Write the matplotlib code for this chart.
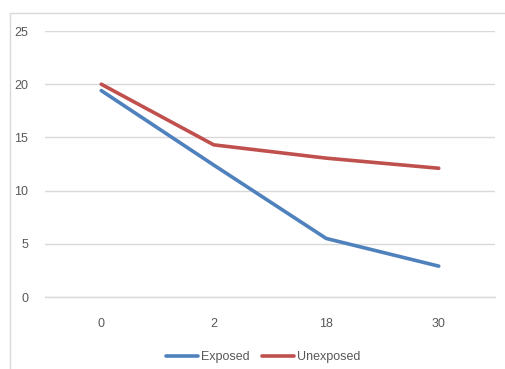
import matplotlib
matplotlib.use("Agg")
import matplotlib.pyplot as plt
from matplotlib.patches import Rectangle

# --- DATA ---
categories = ["0", "2", "18", "30"]
exposed = [19.4, 12.4, 5.5, 2.9]
unexposed = [20.0, 14.3, 13.05, 12.1]
y_ticks = [0, 5, 10, 15, 20, 25]

BLUE = "#4F81BD"
RED = "#C0504D"
GRID = "#D9D9D9"
TEXT = "#595959"

plt.rcParams['font.family'] = ['Liberation Sans', 'DejaVu Sans']

fig = plt.figure(figsize=(5.06, 3.69), dpi=100)
W, H = 506, 369

# chart area border (cropped on the right and bottom)
fig.patches.append(Rectangle((10 / W, -0.1), 1.2, 1 - 13 / H + 0.1,
                             transform=fig.transFigure, fill=False,
                             edgecolor="#D9D9D9", linewidth=1.0))

ax = fig.add_axes([45 / W, 1 - 297 / H, 450 / W, (297 - 31) / H])
x = range(len(categories))
ax.plot(x, exposed, color=BLUE, lw=2.6, label="Exposed", solid_capstyle="round")
ax.plot(x, unexposed, color=RED, lw=2.6, label="Unexposed", solid_capstyle="round")

ax.set_xlim(-0.5, len(categories) - 0.5)
ax.set_ylim(0, 25)
ax.set_yticks(y_ticks)
ax.set_xticks(list(x))
ax.set_xticklabels(categories)
ax.yaxis.grid(True, color=GRID, lw=1.0)
ax.set_axisbelow(True)
for s in ["top", "right", "left"]:
    ax.spines[s].set_visible(False)
ax.spines["bottom"].set_color(GRID)
ax.spines["bottom"].set_linewidth(1.0)
ax.tick_params(axis="both", length=0, colors=TEXT, labelsize=9)
ax.tick_params(axis="y", pad=12)
ax.tick_params(axis="x", pad=15)

leg = fig.legend(loc="center", bbox_to_anchor=(0.52, 1 - 357 / H), ncol=2,
                 frameon=False, fontsize=9, handlelength=2.6,
                 columnspacing=1.0, handletextpad=0.2)
for t in leg.get_texts():
    t.set_color(TEXT)

fig.savefig("out.png", dpi=100)
